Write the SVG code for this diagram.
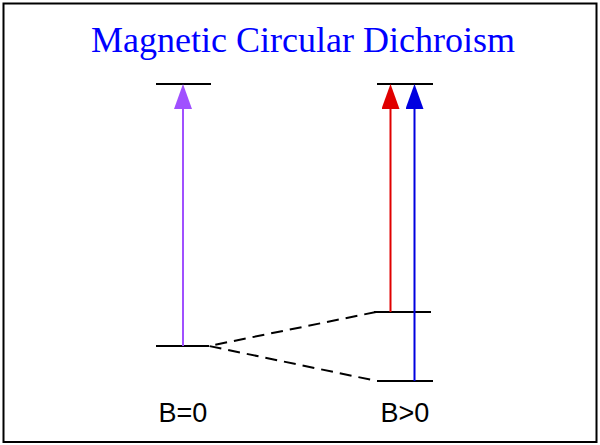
<svg xmlns="http://www.w3.org/2000/svg" width="600" height="445" viewBox="0 0 600 445">
<style>
.lvl{stroke:#000;stroke-width:2;fill:none}
.dash{stroke:#000;stroke-width:2;fill:none;stroke-dasharray:12,7}
.lbl{font-family:"Liberation Sans",Arial,sans-serif;font-size:27px;fill:#000;text-anchor:middle}
</style>
<defs>
<marker id="hp" viewBox="0 0 18 25" refX="9" refY="0" markerWidth="18" markerHeight="25" markerUnits="userSpaceOnUse"><path d="M9,0 L18,25 L0,25 Z" fill="#A050FF"/></marker>
<marker id="hr" viewBox="0 0 18 25" refX="9" refY="0" markerWidth="18" markerHeight="25" markerUnits="userSpaceOnUse"><path d="M9,0 L18,25 L0,25 Z" fill="#E00000"/></marker>
<marker id="hb" viewBox="0 0 18 25" refX="9" refY="0" markerWidth="18" markerHeight="25" markerUnits="userSpaceOnUse"><path d="M9,0 L18,25 L0,25 Z" fill="#0000E0"/></marker>
</defs>
<rect x="3.5" y="3.5" width="593" height="438.5" fill="#fff" stroke="#000" stroke-width="2"/>
<text x="303" y="52" font-family="'Liberation Serif','Times New Roman',serif" font-size="36" fill="#0000FF" text-anchor="middle">Magnetic Circular Dichroism</text>
<g id="level-top-left"><line class="lvl" x1="156" y1="84" x2="211" y2="84"/></g>
<g id="level-top-right"><line class="lvl" x1="377" y1="84" x2="433" y2="84"/></g>
<g id="level-ground-left"><line class="lvl" x1="156" y1="346" x2="209" y2="346"/></g>
<g id="level-mid-right"><line class="lvl" x1="374" y1="312" x2="431" y2="312"/></g>
<g id="level-low-right"><line class="lvl" x1="377" y1="381" x2="433" y2="381"/></g>
<g id="label-b0"><text class="lbl" x="183" y="422">B=0</text></g>
<g id="label-bgt0"><text class="lbl" x="405" y="422">B&gt;0</text></g>
<g id="connectors">
<line x1="183" y1="346" x2="183" y2="105" stroke="#A050FF" stroke-width="2"/>
<path d="M183,346 L183,84" stroke="none" fill="none" marker-end="url(#hp)"/>
<line x1="390.5" y1="312" x2="390.5" y2="105" stroke="#E00000" stroke-width="2"/>
<path d="M390.5,312 L390.5,84" fill="none" stroke="none" marker-end="url(#hr)"/>
<line x1="414.5" y1="381" x2="414.5" y2="105" stroke="#0000E0" stroke-width="2"/>
<path d="M414.5,381 L414.5,84" fill="none" stroke="none" marker-end="url(#hb)"/>
<path class="dash" d="M376,312 L209,346 L377,381"/>
</g>
</svg>
